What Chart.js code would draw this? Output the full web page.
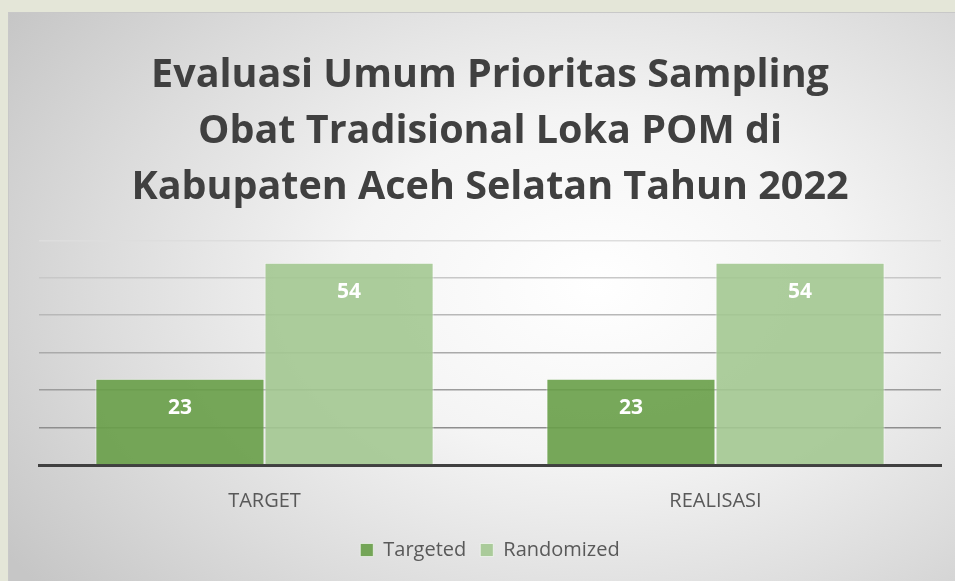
<!DOCTYPE html>
<html>
<head>
<meta charset="utf-8">
<script src="https://cdn.jsdelivr.net/npm/chart.js@4"></script>
<style>
  html, body { margin: 0; padding: 0; background: #e4e6d8; }
  #wrap {
    position: absolute; left: 8px; top: 12px; width: 947px; height: 569px;
    background: radial-gradient(ellipse 75% 85% at 62% 48%, #ffffff 0%, #f4f4f4 35%, #dcdcdc 70%, #c6c6c6 100%);
    border-top: 1px solid #c8c8c8; border-left: 1px solid #c8c8c8;
    box-sizing: border-box;
  }
</style>
</head>
<body>
<div id="wrap"><canvas id="chart"></canvas></div>
<script>
const titleLines = ['Evaluasi Umum Prioritas Sampling', 'Obat Tradisional Loka POM di', 'Kabupaten Aceh Selatan Tahun 2022'];
const categories = ['TARGET', 'REALISASI'];
const targeted = [23, 23];
const randomized = [54, 54];
const yTicks = [0, 10, 20, 30, 40, 50, 60];

// gridlines fade from dark (bottom) to light (top), as in the original
const gridShades = ['#404040', '#8e8e8e', '#9c9c9c', '#aaaaaa', '#b8b8b8', '#c8c8c8', '#dddddd'];

const barLabels = {
  id: 'barLabels',
  afterDatasetsDraw(chart) {
    const ctx = chart.ctx;
    ctx.save();
    ctx.font = 'bold 21px "Open Sans", sans-serif';
    ctx.fillStyle = '#ffffff';
    ctx.textAlign = 'center';
    ctx.textBaseline = 'middle';
    chart.data.datasets.forEach((ds, i) => {
      chart.getDatasetMeta(i).data.forEach((bar, j) => {
        ctx.fillText(ds.data[j], bar.x, bar.y + 29);
      });
    });
    ctx.restore();
  }
};

new Chart(document.getElementById('chart'), {
  type: 'bar',
  data: {
    labels: categories,
    datasets: [{
      label: 'Targeted',
      data: targeted,
      backgroundColor: 'rgba(104,158,72,0.9)',
      borderColor: 'rgba(255,255,255,0.6)',
      borderWidth: 1,
      categoryPercentage: 0.75,
      barPercentage: 1.0,
    }, {
      label: 'Randomized',
      data: randomized,
      backgroundColor: 'rgba(163,200,145,0.9)',
      borderColor: 'rgba(255,255,255,0.6)',
      borderWidth: 1,
      categoryPercentage: 0.75,
      barPercentage: 1.0,
    }]
  },
  options: {
    responsive: true,
    maintainAspectRatio: false,
    animation: false,
    layout: { padding: { left: 30, right: 14, top: 20, bottom: 11 } },
    plugins: {
      title: {
        display: true,
        text: titleLines,
        color: '#404040',
        font: { family: '"Open Sans", sans-serif', size: 39.5, weight: 'bold', lineHeight: 1.42 },
        padding: { top: 15, bottom: 24 },
      },
      legend: {
        position: 'bottom',
        labels: {
          color: '#595959',
          font: { family: '"Open Sans", sans-serif', size: 20 },
          boxWidth: 13, boxHeight: 13,
          padding: 14,
        }
      },
      tooltip: { enabled: false },
    },
    scales: {
      x: {
        grid: { display: false },
        border: { display: true, color: '#404040', width: 3 },
        ticks: { color: '#595959', font: { family: '"Open Sans", sans-serif', size: 20 }, padding: 16 },
        afterFit: axis => { axis.height = 61; },
      },
      y: {
        min: 0, max: 60,
        afterBuildTicks: axis => { axis.ticks = yTicks.map(v => ({ value: v })); },
        ticks: { display: false },
        border: { display: false },
        grid: { color: c => gridShades[c.index] || '#bbbbbb', lineWidth: 1.5, drawTicks: false },
      }
    }
  },
  plugins: [barLabels]
});
</script>
</body>
</html>
